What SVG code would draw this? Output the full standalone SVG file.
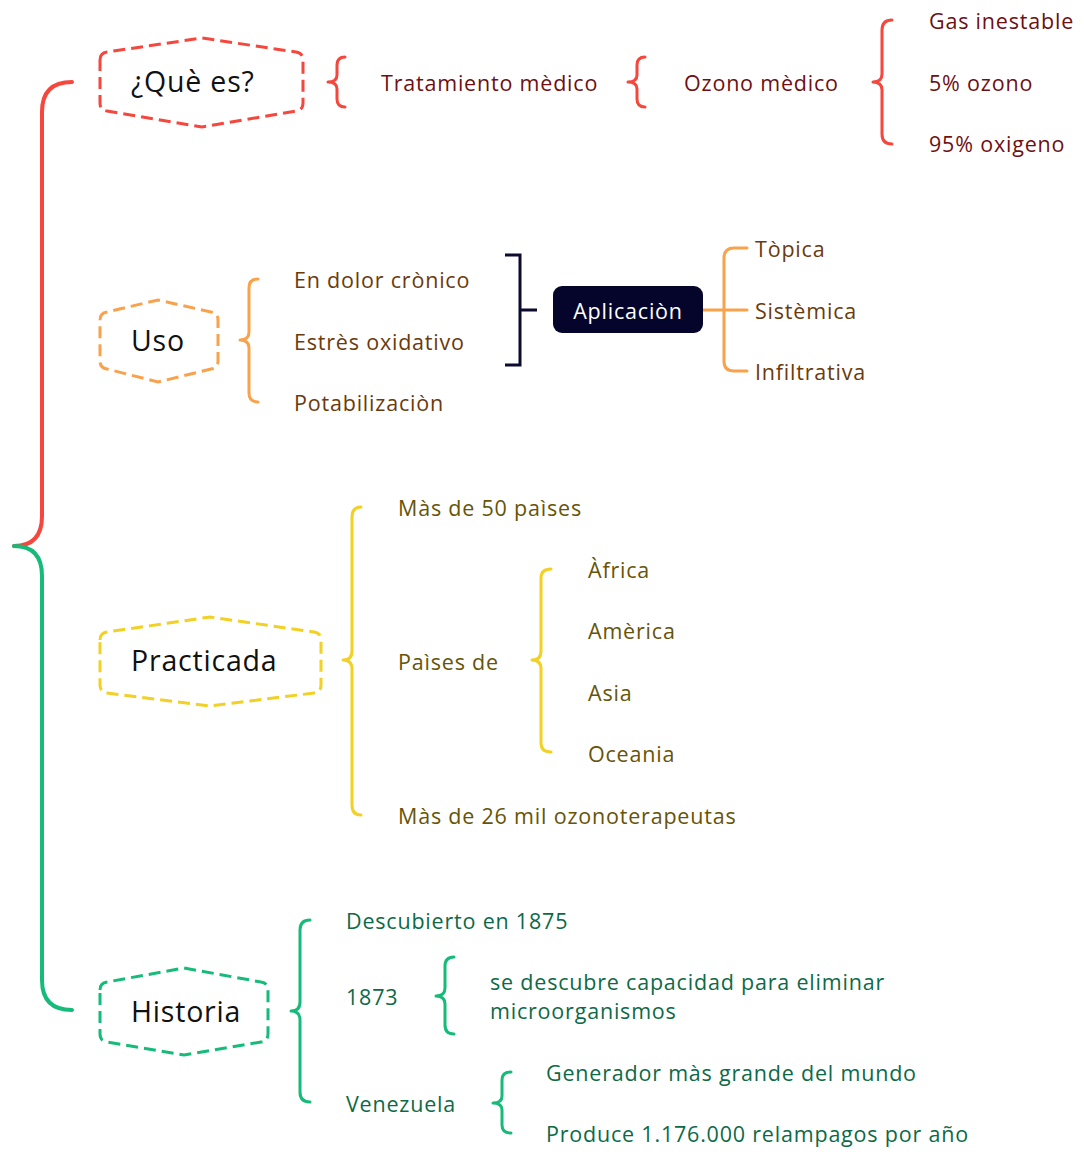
<svg xmlns="http://www.w3.org/2000/svg" width="1084" height="1152" viewBox="0 0 1084 1152">
<style>
text{font-family:"Open Sans","Liberation Sans",sans-serif;dominant-baseline:central}
.n{font-size:28.5px;fill:#111;letter-spacing:0.8px}
.t{font-size:21.5px;letter-spacing:0.8px}
.red{fill:#6e0f12}
.org{fill:#6a3a0c}
.yel{fill:#665407}
.grn{fill:#0c6a47}
.hex{fill:#fff;stroke-width:3;stroke-dasharray:12 6}
.br{fill:none;stroke-width:3;stroke-linecap:round;stroke-linejoin:round}
.sR{stroke:#f5473d}.sO{stroke:#f8a24c}.sY{stroke:#f2d024}.sG{stroke:#16bb79}
</style>
<rect width="1084" height="1152" fill="#fff"/>
<g id="connectors">
<path class="br sR" style="stroke-width:4" d="M72,82 Q42,82 42,112 L42,516 Q42,546 14,546"/>
<path class="br sG" style="stroke-width:4" d="M14,546 Q42,546 42,576 L42,980 Q42,1010 72,1010"/>
<path class="br sR" d="M345,57 Q337,57 337,65 L337,75 Q337,82 328,82 Q337,82 337,89 L337,99 Q337,107 345,107"/>
<path class="br sR" d="M645,57 Q637,57 637,65 L637,75 Q637,82 628,82 Q637,82 637,89 L637,99 Q637,107 645,107"/>
<path class="br sR" d="M892,20 Q882,20 882,30 L882,74 Q882,82 873,82 Q882,82 882,90 L882,134 Q882,144 892,144"/>
<path class="br sO" d="M258,279 Q249,279 249,288 L249,332 Q249,340 240,340 Q249,340 249,348 L249,393 Q249,402 258,402"/>
<path fill="none" stroke="#0b0b2e" stroke-width="3" d="M505,255 L520,255 L520,365 L505,365 M520,310 L537,310"/>
<path class="br sO" d="M703,310 L747,310 M747,248 L734,248 Q724,248 724,258 L724,361 Q724,371 734,371 L747,371"/>
<path class="br sY" d="M361,507 Q352,507 352,517 L352,651 Q352,660 343,660 Q352,660 352,669 L352,805 Q352,815 361,815"/>
<path class="br sY" d="M551,569 Q541,569 541,578 L541,651 Q541,660 532,660 Q541,660 541,669 L541,743 Q541,752 551,752"/>
<path class="br sG" d="M310,920 Q300,920 300,930 L300,1002 Q300,1011 291,1011 Q300,1011 300,1020 L300,1092 Q300,1102 310,1102"/>
<path class="br sG" d="M454,957 Q445,957 445,966 L445,988 Q445,996 436,996 Q445,996 445,1004 L445,1025 Q445,1034 454,1034"/>
<path class="br sG" d="M511,1072 Q502,1072 502,1080 L502,1096 Q502,1103 493,1103 Q502,1103 502,1110 L502,1125 Q502,1133 511,1133"/>
</g>
<g id="que-es">
<path class="hex sR" d="M100,60 Q100,53 107,52 L202,38 L296,52 Q303,53 303,60 L303,103 Q303,110 296,111 L202,127 L107,111 Q100,110 100,103 Z"/>
<text class="n" x="131" y="81">¿Què es?</text>
</g>
<g id="tratamiento"><text class="t red" x="381" y="82">Tratamiento mèdico</text></g>
<g id="ozono"><text class="t red" x="684" y="82">Ozono mèdico</text></g>
<g id="gas"><text class="t red" x="929" y="20">Gas inestable</text></g>
<g id="ozono5"><text class="t red" x="929" y="82">5% ozono</text></g>
<g id="oxigeno"><text class="t red" x="929" y="143">95% oxigeno</text></g>
<g id="uso">
<path class="hex sO" d="M100,320 Q100,313 107,312 L158,300 L211,312 Q218,313 218,320 L218,361 Q218,368 211,369 L158,382 L107,369 Q100,368 100,361 Z"/>
<text class="n" x="131" y="340">Uso</text>
</g>
<g id="dolor"><text class="t org" x="294" y="279">En dolor crònico</text></g>
<g id="estres"><text class="t org" x="294" y="341">Estrès oxidativo</text></g>
<g id="potab"><text class="t org" x="294" y="402">Potabilizaciòn</text></g>
<g id="aplicacion">
<rect x="553" y="286" width="150" height="47" rx="9" fill="#05052b"/>
<text class="t" x="628" y="310" fill="#fff" text-anchor="middle">Aplicaciòn</text>
</g>
<g id="topica"><text class="t org" x="755" y="248">Tòpica</text></g>
<g id="sistemica"><text class="t org" x="755" y="310">Sistèmica</text></g>
<g id="infiltrativa"><text class="t org" x="755" y="371">Infiltrativa</text></g>
<g id="practicada">
<path class="hex sY" d="M100,640 Q100,633 107,632 L210,617 L314,632 Q321,633 321,640 L321,685 Q321,692 314,693 L210,706 L107,693 Q100,692 100,685 Z"/>
<text class="n" x="131" y="660">Practicada</text>
</g>
<g id="mas50"><text class="t yel" x="398" y="507">Màs de 50 paìses</text></g>
<g id="paises"><text class="t yel" x="398" y="661">Paìses de</text></g>
<g id="mas26"><text class="t yel" x="398" y="815">Màs de 26 mil ozonoterapeutas</text></g>
<g id="africa"><text class="t yel" x="588" y="569">Àfrica</text></g>
<g id="america"><text class="t yel" x="588" y="630">Amèrica</text></g>
<g id="asia"><text class="t yel" x="588" y="692">Asia</text></g>
<g id="oceania"><text class="t yel" x="588" y="753">Oceania</text></g>
<g id="historia">
<path class="hex sG" d="M100,990 Q100,983 107,982 L184,968 L261,982 Q268,983 268,990 L268,1034 Q268,1041 261,1042 L184,1055 L107,1042 Q100,1041 100,1034 Z"/>
<text class="n" x="131" y="1011">Historia</text>
</g>
<g id="descubierto"><text class="t grn" x="346" y="920">Descubierto en 1875</text></g>
<g id="y1873"><text class="t grn" x="346" y="996">1873</text></g>
<g id="capacidad"><text class="t grn" x="490" y="981">se descubre capacidad para eliminar</text><text class="t grn" x="490" y="1010">microorganismos</text></g>
<g id="venezuela"><text class="t grn" x="346" y="1103">Venezuela</text></g>
<g id="generador"><text class="t grn" x="546" y="1072">Generador màs grande del mundo</text></g>
<g id="produce"><text class="t grn" x="546" y="1133">Produce 1.176.000 relampagos por año</text></g>
</svg>
